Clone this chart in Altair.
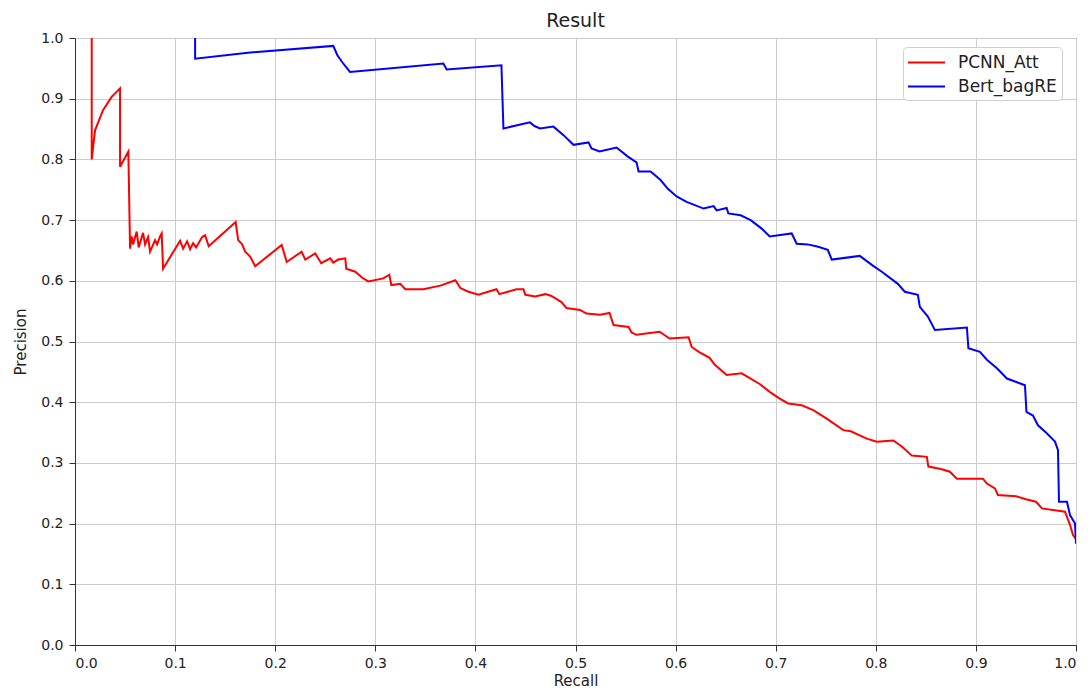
import altair as alt
import pandas as pd

# ---- data ----
pcnn_recall = [0.0167, 0.0167, 0.020, 0.028, 0.0366, 0.045, 0.045, 0.0533, 0.055,
               0.0566, 0.058, 0.0616, 0.0636, 0.068, 0.070, 0.073, 0.075, 0.080, 0.082,
               0.085, 0.0866, 0.088, 0.105, 0.108, 0.112, 0.115, 0.118, 0.121, 0.127,
               0.130, 0.1336, 0.1605, 0.163, 0.167, 0.170, 0.175, 0.180, 0.2065, 0.2115,
               0.2264, 0.230, 0.240, 0.246, 0.255, 0.258, 0.263, 0.270, 0.271, 0.280,
               0.287, 0.293, 0.308, 0.314, 0.316, 0.325, 0.330, 0.348, 0.365, 0.380,
               0.385, 0.393, 0.403, 0.421, 0.424, 0.441, 0.448, 0.450, 0.4595, 0.470,
               0.476, 0.486, 0.491, 0.5045, 0.511, 0.5245, 0.534, 0.538, 0.553, 0.556,
               0.561, 0.584, 0.594, 0.613, 0.616, 0.624, 0.634, 0.639, 0.651, 0.666,
               0.684, 0.694, 0.704, 0.7125, 0.726, 0.7375, 0.751, 0.7675, 0.775, 0.791,
               0.801, 0.8175, 0.826, 0.836, 0.851, 0.8525, 0.865, 0.874, 0.881, 0.907,
               0.911, 0.919, 0.922, 0.940, 0.950, 0.960, 0.966, 0.989, 0.994, 0.997, 1.0]
pcnn_precision = [1.0, 0.800, 0.848, 0.881, 0.903, 0.917, 0.788, 0.813, 0.653,
                  0.673, 0.660, 0.681, 0.655, 0.679, 0.660, 0.672, 0.648, 0.667, 0.660,
                  0.673, 0.678, 0.620, 0.666, 0.653, 0.665, 0.652, 0.662, 0.655, 0.672,
                  0.675, 0.657, 0.697, 0.667, 0.660, 0.648, 0.640, 0.624, 0.659, 0.631,
                  0.648, 0.635, 0.645, 0.629, 0.637, 0.630, 0.635, 0.637, 0.620, 0.615,
                  0.605, 0.599, 0.604, 0.610, 0.593, 0.595, 0.586, 0.586, 0.592, 0.601,
                  0.588, 0.582, 0.577, 0.586, 0.578, 0.586, 0.586, 0.577, 0.574, 0.578,
                  0.575, 0.565, 0.555, 0.552, 0.546, 0.544, 0.547, 0.527, 0.524, 0.515,
                  0.511, 0.516, 0.505, 0.507, 0.491, 0.482, 0.473, 0.462, 0.445, 0.4475,
                  0.430, 0.417, 0.406, 0.398, 0.395, 0.387, 0.373, 0.354, 0.352, 0.340,
                  0.335, 0.337, 0.327, 0.312, 0.310, 0.294, 0.290, 0.2855, 0.274, 0.274,
                  0.266, 0.258, 0.247, 0.245, 0.240, 0.236, 0.225, 0.2195, 0.198, 0.181, 0.175]

bert_recall = [0.12, 0.12, 0.175, 0.258, 0.262, 0.267, 0.2747, 0.368, 0.3713, 0.426,
               0.428, 0.4545, 0.459, 0.4645, 0.478, 0.488, 0.498, 0.513, 0.516, 0.524,
               0.541, 0.552, 0.561, 0.563, 0.575, 0.585, 0.592, 0.601, 0.611, 0.628,
               0.638, 0.641, 0.651, 0.6527, 0.665, 0.675, 0.686, 0.694, 0.716, 0.721,
               0.732, 0.7425, 0.752, 0.756, 0.784, 0.797, 0.806, 0.822, 0.829, 0.842,
               0.844, 0.852, 0.859, 0.891, 0.8925, 0.904, 0.911, 0.921, 0.931, 0.949,
               0.9505, 0.957, 0.962, 0.970, 0.979, 0.982, 0.983, 0.991, 0.994, 0.999, 1.0]
bert_precision = [1.0, 0.966, 0.976, 0.987, 0.972, 0.960, 0.944, 0.958, 0.948, 0.955,
                  0.851, 0.861, 0.855, 0.851, 0.854, 0.840, 0.824, 0.828, 0.818, 0.813,
                  0.8195, 0.805, 0.795, 0.780, 0.780, 0.766, 0.752, 0.739, 0.730, 0.719,
                  0.723, 0.716, 0.720, 0.711, 0.708, 0.700, 0.686, 0.673, 0.678, 0.661,
                  0.660, 0.656, 0.651, 0.635, 0.641, 0.625, 0.615, 0.595, 0.582, 0.577,
                  0.557, 0.541, 0.519, 0.523, 0.489, 0.483, 0.470, 0.456, 0.439, 0.428,
                  0.384, 0.378, 0.362, 0.350, 0.335, 0.321, 0.236, 0.236, 0.214, 0.200, 0.167]

series_names = ["PCNN_Att", "Bert_bagRE"]
series_colors = ["#ff0000", "#0000ff"]
tick_values = [0.0, 0.1, 0.2, 0.3, 0.4, 0.5, 0.6, 0.7, 0.8, 0.9, 1.0]

rows = []
for name, xs, ys in [(series_names[0], pcnn_recall, pcnn_precision),
                     (series_names[1], bert_recall, bert_precision)]:
    for i, (x, y) in enumerate(zip(xs, ys)):
        rows.append({"recall": x, "precision": y, "model": name, "idx": i})
df = pd.DataFrame(rows)

FONT = "DejaVu Sans"
axis_common = dict(
    values=tick_values, format=".1f", grid=True, gridColor="#cccccc", gridWidth=1,
    domainColor="#333333", tickColor="#333333", tickSize=6,
    labelFont=FONT, labelFontSize=14, labelColor="#222222",
    titleFont=FONT, titleFontSize=15, titleFontWeight="normal", titleColor="#222222",
)

chart = alt.Chart(df).mark_line(strokeWidth=2, clip=True).encode(
    x=alt.X("recall:Q", scale=alt.Scale(domain=[0, 1], nice=False, zero=False),
            axis=alt.Axis(title="Recall", labelPadding=5, titlePadding=3, **axis_common)),
    y=alt.Y("precision:Q", scale=alt.Scale(domain=[0, 1], nice=False, zero=False),
            axis=alt.Axis(title="Precision", labelPadding=6, titlePadding=12, **axis_common)),
    color=alt.Color("model:N",
                    scale=alt.Scale(domain=series_names, range=series_colors),
                    legend=alt.Legend(title=None, orient="none", legendX=828, legendY=9,
                                      symbolType="M-2,0H2", symbolSize=342,
                                      symbolStrokeWidth=2, labelFont=FONT,
                                      labelFontSize=17, labelColor="#222222",
                                      fillColor="white", strokeColor="#d0d0d0",
                                      cornerRadius=4, padding=5, rowPadding=5,
                                      labelOffset=21, symbolOffset=8)),
    order="idx:Q",
).properties(
    width=1001, height=607,
    title=alt.Title("Result", font=FONT, fontSize=19, fontWeight="normal",
                    color="#222222", anchor="middle", frame="group", offset=0),
    autosize=alt.AutoSizeParams(type="none"),
    padding={"left": 67, "top": 30, "right": 6, "bottom": 44},
).configure_view(stroke="#444444", strokeWidth=1)

chart.save("out.html", embed_options={"renderer": "svg", "actions": False})
